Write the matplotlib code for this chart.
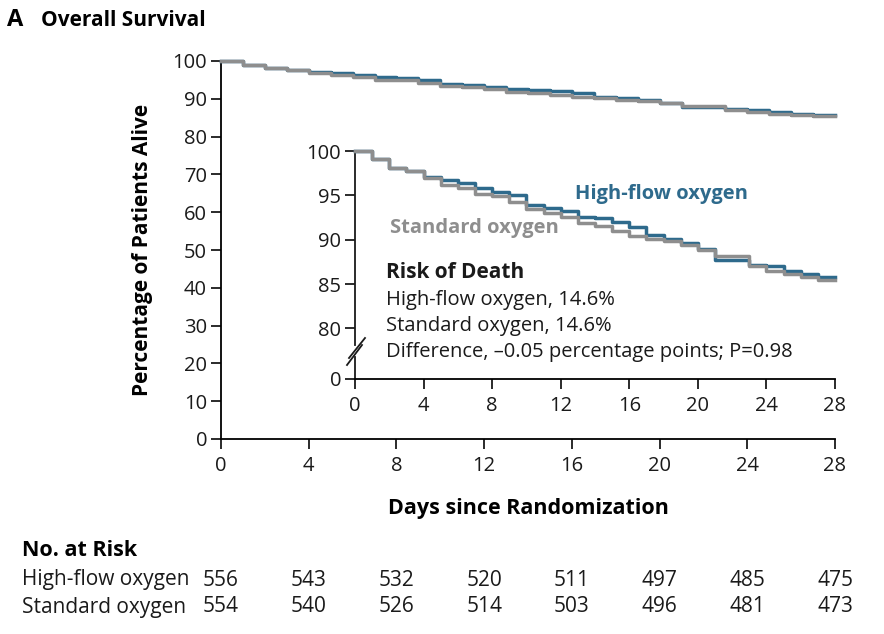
import matplotlib
matplotlib.use("Agg")
import matplotlib.pyplot as plt
import matplotlib.transforms as mtransforms

plt.rcParams['font.family'] = ['Open Sans', 'DejaVu Sans']

# ---------------- data ----------------
days = list(range(0, 29))
high_flow = [100, 99.05, 98.1, 97.7, 97.1, 96.7, 96.4, 95.8, 95.4, 95.0,
             93.9, 93.6, 93.2, 92.6, 92.4, 92.0, 91.45, 90.5, 90.1, 89.6,
             88.9, 87.7, 87.7, 87.2, 87.0, 86.5, 86.1, 85.8, 85.8]
standard = [100, 99.05, 98.1, 97.7, 96.9, 96.2, 95.8, 95.1, 94.9, 94.3,
            93.5, 93.0, 92.6, 91.9, 91.5, 90.97, 90.4, 90.1, 89.8, 89.4,
            88.8, 88.2, 88.2, 87.0, 86.5, 86.1, 85.8, 85.5, 85.5]

x_ticks = [0, 4, 8, 12, 16, 20, 24, 28]
y_ticks_main = [0, 10, 20, 30, 40, 50, 60, 70, 80, 90, 100]
y_ticks_inset = [80, 85, 90, 95, 100]
risk_groups = ["High-flow oxygen", "Standard oxygen"]
at_risk_high = [556, 543, 532, 520, 511, 497, 485, 475]
at_risk_std = [554, 540, 526, 514, 503, 496, 481, 473]
risk_lines = ["High-flow oxygen, 14.6%", "Standard oxygen, 14.6%",
              "Difference, \u20130.05 percentage points; P=0.98"]

BLUE = "#2e6a8c"
GRAY = "#8e8e8e"
W, H = 884, 634

fig = plt.figure(figsize=(W / 100, H / 100), dpi=100)


def fx(px):
    return px / W


def fy(py):
    return 1 - py / H


FS = 14.5
LW = 2.5

# ---------------- main axes ----------------
ax = fig.add_axes([fx(221), fy(439), (835 - 221) / W, (439 - 61) / H])
ax.step(days, high_flow, where='post', color=BLUE, lw=LW, clip_on=False, zorder=3)
ax.step(days, standard, where='post', color=GRAY, lw=LW, clip_on=False, zorder=4)
ax.set_xlim(0, 28)
ax.set_ylim(0, 100)
ax.set_xticks(x_ticks)
ax.set_yticks(y_ticks_main)
for s in ['top', 'right']:
    ax.spines[s].set_visible(False)
for s in ['left', 'bottom']:
    ax.spines[s].set_linewidth(1.3)
ax.tick_params(direction='out', length=7, width=1.3, labelsize=FS, colors='#1a1a1a')
ax.tick_params(axis='y', pad=3)
ax.tick_params(axis='x', pad=5)
ax.set_ylabel("Percentage of Patients Alive", fontsize=FS + 0.5, fontweight='bold', labelpad=14)
ax.set_xlabel("Days since Randomization", fontsize=FS + 1, fontweight='bold', labelpad=16)

# ---------------- inset axes ----------------
inset_bottom_val = 100 - (379 - 151) / 8.87
iax = fig.add_axes([fx(355), fy(379), (835 - 355) / W, (379 - 151) / H])
iax.patch.set_alpha(0)
iax.step(days, high_flow, where='post', color=BLUE, lw=LW, clip_on=False, zorder=3)
iax.step(days, standard, where='post', color=GRAY, lw=LW, clip_on=False, zorder=4)
iax.set_xlim(0, 28)
iax.set_ylim(inset_bottom_val, 100)
iax.set_xticks(x_ticks)
iax.set_yticks([inset_bottom_val] + y_ticks_inset)
iax.set_yticklabels(["0"] + [str(v) for v in y_ticks_inset])
for s in ['top', 'right', 'left']:
    iax.spines[s].set_visible(False)
iax.spines['bottom'].set_linewidth(1.3)
iax.tick_params(direction='out', length=7, width=1.3, labelsize=FS, colors='#1a1a1a')
iax.tick_params(axis='y', pad=3)
iax.tick_params(axis='x', pad=5)

# broken left spine
ih = 379 - 151
iw = 835 - 355
def afy(py):
    return (379 - py) / ih
def afx(px):
    return (px - 355) / iw
iax.plot([0, 0], [0, afy(357)], transform=iax.transAxes, color='#1a1a1a', lw=1.3, clip_on=False)
iax.plot([0, 0], [afy(345), 1], transform=iax.transAxes, color='#1a1a1a', lw=1.3, clip_on=False)
iax.plot([afx(347), afx(362)], [afy(365), afy(345)], transform=iax.transAxes,
         color='#1a1a1a', lw=1.3, clip_on=False)
iax.plot([afx(349), afx(365)], [afy(358), afy(338)], transform=iax.transAxes,
         color='#1a1a1a', lw=1.3, clip_on=False)

# inset labels
fig.text(fx(575), fy(194), "High-flow oxygen", color=BLUE, fontsize=FS, fontweight='bold',
         ha='left', va='center')
fig.text(fx(390), fy(228), "Standard oxygen", color=GRAY, fontsize=FS, fontweight='bold',
         ha='left', va='center')
fig.text(fx(386), fy(273), "Risk of Death", color='#1a1a1a', fontsize=FS + 0.5, fontweight='bold',
         ha='left', va='center')
for i, t in enumerate(risk_lines):
    fig.text(fx(386), fy(300 + 26 * i), t, color='#1a1a1a', fontsize=FS,
             ha='left', va='center')

# title
fig.text(fx(7), fy(20), "A", fontsize=FS + 2.5, fontweight='bold', ha='left', va='center')
fig.text(fx(41), fy(20), "Overall Survival", fontsize=FS + 0.5, fontweight='bold',
         ha='left', va='center')

# number at risk
trans = mtransforms.blended_transform_factory(ax.transData, fig.transFigure)
fig.text(fx(22), fy(551), "No. at Risk", fontsize=FS + 1, fontweight='bold', ha='left', va='center')
for row, (name, vals) in enumerate(zip(risk_groups, [at_risk_high, at_risk_std])):
    y = fy(580 + 27 * row)
    fig.text(fx(22), y, name, fontsize=FS + 0.5, ha='left', va='center', color='#1a1a1a')
    for xv, v in zip(x_ticks, vals):
        fig.text(xv, y, str(v), transform=trans, fontsize=FS + 0.5, ha='center', va='center',
                 color='#1a1a1a')

fig.savefig("out.png", dpi=100)
